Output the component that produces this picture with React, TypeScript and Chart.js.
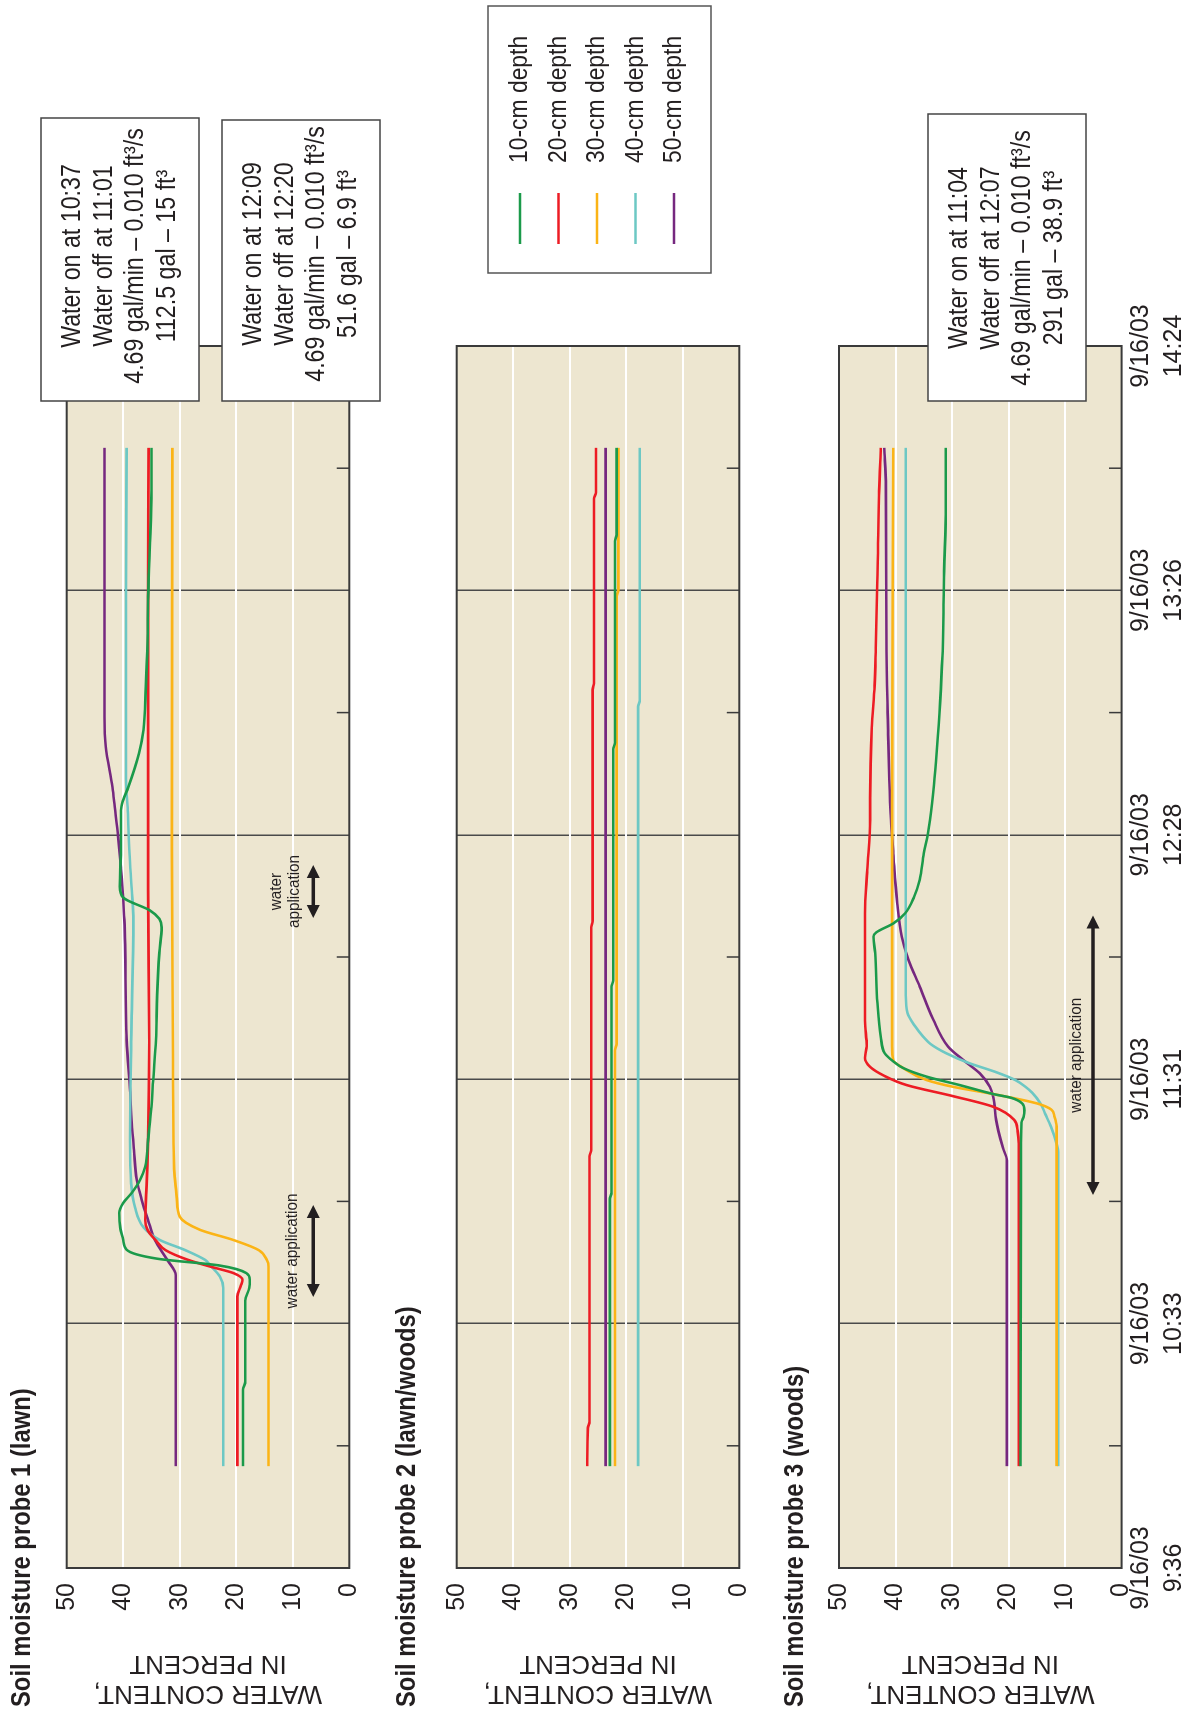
import React, { useEffect, useRef } from 'react';
import { Chart, registerables } from 'chart.js';

Chart.register(...registerables);

// ---------- data (time = minutes after 9:36 on 9/16/03, value = water content %) ----------
const DEPTH_LABELS = ['10-cm depth', '20-cm depth', '30-cm depth', '40-cm depth', '50-cm depth'];
const X_TICK_DATE = '9/16/03';
const X_TICK_TIMES = ['9:36', '10:33', '11:31', '12:28', '13:26', '14:24'];
const X_MAJOR_STEP = 57.6;
const X_MAX = 288;
const Y_MAX = 50;
const Y_STEP = 10;

const P1_10CM: [number, number][] = [[24,18.8],[42,18.8],[44,18.4],[63,18.4],[66,17.7],[68,17.6],[69.5,18.2],[71.3,23],[72.9,34],[75,39.4],[77.3,40],[80,40.5],[83.7,40.7],[86,40],[88.4,38.5],[91.5,37],[94.6,36.1],[101,35.6],[108.7,35],[115,34.7],[124.4,34.2],[135,34],[145,33.6],[151,33.2],[153,33.6],[155,35.3],[158,40],[160.6,40.6],[170,40.4],[178.6,40.4],[181,40],[184,39.1],[192,37.2],[197.5,36.4],[207.7,36],[218,35.7],[229,35.6],[240,35.3],[254,35],[264,35]];
const P1_20CM: [number, number][] = [[24,19.8],[64,19.8],[66.5,19.2],[67.9,18.9],[69.5,20.5],[71,24.5],[72.6,28.5],[74.9,32.5],[77.3,34.3],[79.7,35.7],[82,36.1],[89,35.9],[101,35.6],[124,35.4],[160,35.6],[200,35.6],[230,35.6],[264,35.5]];
const P1_30CM: [number, number][] = [[24,14.3],[71,14.3],[72.6,14.6],[74.9,16],[77.3,20.5],[79.7,26.4],[82.8,30],[87,30.5],[94,31],[120,31.2],[170,31.4],[264,31.3]];
const P1_40CM: [number, number][] = [[24,22.3],[66,22.3],[68.7,22.9],[71.3,24.6],[72.6,25.5],[74.9,29],[77.3,33.5],[80.3,36.4],[85,37.9],[90.7,38.6],[101,38.8],[124,38.6],[152.7,38.2],[160,38.5],[168.5,38.9],[178.6,39.2],[186,39.5],[230,39.5],[264,39.4]];
const P1_50CM: [number, number][] = [[24,30.7],[69,30.7],[72.6,32.2],[77.3,34.4],[82,35.6],[86.7,36.7],[91.5,37.6],[98.5,38.1],[105,38.5],[112.7,38.8],[124.4,39.4],[152.7,39.8],[165,40.4],[172.4,40.9],[179.4,41.5],[184,41.9],[193.6,43.1],[200.6,43.3],[264,43.3]];

const P2_10CM: [number, number][] = [[24,22.9],[87,22.9],[88.5,22.6],[137,22.6],[138.5,22.3],[193,22.3],[194.5,22.0],[242,22.0],[243.5,21.7],[264,21.7]];
const P2_20CM: [number, number][] = [[24,26.9],[33,26.8],[34.5,26.5],[97,26.5],[98.5,26.2],[151,26.2],[152.5,25.95],[207,25.95],[208.5,25.7],[252,25.7],[253.5,25.35],[264,25.35]];
const P2_30CM: [number, number][] = [[24,22.0],[122,22.0],[123.5,21.7],[229,21.7],[230.5,21.4],[264,21.4]];
const P2_40CM: [number, number][] = [[24,17.9],[203,17.9],[204.5,17.6],[264,17.6]];
const P2_50CM: [number, number][] = [[24,23.65],[140,23.65],[264,23.65]];

const P3_10CM: [number, number][] = [[24,17.9],[100,17.8],[105,17.7],[106.5,17.3],[107.9,17.2],[109.5,17.6],[110.8,19.5],[111.7,22.7],[113.8,28.6],[115.8,34.5],[117.8,38.6],[119.4,40.4],[121.3,41.9],[125.2,42.6],[133.1,43.2],[144.9,43.6],[148.8,43.9],[149.8,43.4],[151.9,40.4],[154.3,38.3],[158.2,36.7],[162.2,35.7],[168.4,35.0],[172.8,34.3],[176.3,33.9],[184.6,33.2],[192.5,32.7],[204,32.1],[215,31.7],[235,31.4],[250,31.1],[264,31.1]];
const P3_20CM: [number, number][] = [[24,18.2],[100,18.2],[103,18.4],[105.6,19.0],[108.7,22.7],[111.2,29.8],[113.8,38.0],[116,42.0],[118.1,44.5],[120.2,45.4],[123,45.1],[129,45.4],[154.3,45.4],[164.5,45.0],[176.3,44.5],[181.5,44.5],[198,44.2],[208,43.7],[216.8,43.5],[234,43.2],[253.8,42.9],[264,42.6]];
const P3_30CM: [number, number][] = [[24,11.5],[104,11.5],[106.5,11.9],[108,12.4],[109.5,15.0],[111.7,22.7],[113.4,29.8],[115,34.5],[117.8,38.6],[119.7,40.4],[123,40.6],[180,40.6],[264,40.4]];
const P3_40CM: [number, number][] = [[24,11.2],[98,11.2],[100,11.5],[104,12.5],[107,13.5],[109.6,14.4],[112,15.8],[113.4,17.0],[115,18.8],[117,22.5],[119,27],[121.3,31],[123.5,33.8],[125.2,35.1],[127.6,36.5],[130.8,37.9],[135,38.2],[264,38.2]];
const P3_50CM: [number, number][] = [[24,20.3],[96,20.3],[99,21.0],[103,21.8],[105.6,22.2],[111,22.7],[113.4,23.3],[116.6,25.1],[119.7,28.0],[122.9,30.7],[129.2,33.3],[137,35.7],[143.3,37.7],[148.8,38.9],[156.6,39.7],[168.4,40.4],[176.3,40.8],[186,41.1],[196.4,41.3],[216,41.6],[255,41.7],[264,42.0]];

const BOX1_LINES = ['Water on at 10:37', 'Water off at 11:01', '4.69 gal/min \u2013 0.010 ft\u00b3/s', '112.5 gal \u2013 15 ft\u00b3'];
const BOX2_LINES = ['Water on at 12:09', 'Water off at 12:20', '4.69 gal/min \u2013 0.010 ft\u00b3/s', '51.6 gal \u2013 6.9 ft\u00b3'];
const BOX3_LINES = ['Water on at 11:04', 'Water off at 12:07', '4.69 gal/min \u2013 0.010 ft\u00b3/s', '291 gal \u2013 38.9 ft\u00b3'];

// ---------- styles / layout (landscape frame, later rotated) ----------
const W = 1712;
const H = 1201;
const FONT = "'Liberation Sans', Arial, sans-serif";
const INK = '#231f20';
const BG = '#ede6d0';
const COLORS = ['#1b9a4a', '#ed1c24', '#fbb416', '#6dc8c4', '#76287f'];
const PLOT_LEFT = 144;
const PLOT_RIGHT = 1366;

type Box = { x: number; y: number; w: number; h: number; tx: number; lines: string[] };
type Arrow = { x1: number; x2: number; y: number; labels: string[]; ly: number[] };
type Probe = {
  title: string; titleY: number; top: number; bottom: number; showX: boolean;
  series: [number, number][][]; boxes: Box[]; arrows: Arrow[]; legend: boolean;
};

const PROBES: Probe[] = [
  {
    title: 'Soil moisture probe 1 (lawn)', titleY: 22, top: 66.7, bottom: 349.3, showX: false,
    series: [P1_10CM, P1_20CM, P1_30CM, P1_40CM, P1_50CM],
    boxes: [
      { x: 1311, y: 41, w: 283, h: 158, tx: 1456, lines: BOX1_LINES },
      { x: 1311, y: 222, w: 281, h: 158, tx: 1458, lines: BOX2_LINES },
    ],
    arrows: [
      { x1: 415, x2: 507, y: 313.3, labels: ['water application'], ly: [292] },
      { x1: 794, x2: 847, y: 313.3, labels: ['water', 'application'], ly: [276, 294] },
    ],
    legend: false,
  },
  {
    title: 'Soil moisture probe 2 (lawn/woods)', titleY: 407, top: 456.7, bottom: 739.3, showX: false,
    series: [P2_10CM, P2_20CM, P2_30CM, P2_40CM, P2_50CM],
    boxes: [], arrows: [], legend: true,
  },
  {
    title: 'Soil moisture probe 3 (woods)', titleY: 795, top: 839, bottom: 1121.6, showX: true,
    series: [P3_10CM, P3_20CM, P3_30CM, P3_40CM, P3_50CM],
    boxes: [{ x: 1311, y: 928, w: 287, h: 158, tx: 1454, lines: BOX3_LINES }],
    arrows: [{ x1: 517, x2: 796.5, y: 1093, labels: ['water application'], ly: [1076] }],
    legend: false,
  },
];

function drawText(ctx: CanvasRenderingContext2D, str: string, x: number, y: number, size: number,
  align: CanvasTextAlign = 'left', weight = 'normal', sx = 1) {
  ctx.save();
  ctx.font = `${weight} ${size}px ${FONT}`;
  ctx.fillStyle = INK;
  ctx.textBaseline = 'middle';
  ctx.textAlign = align;
  ctx.translate(x, y);
  ctx.scale(sx, 1);
  ctx.fillText(str, 0, 0);
  ctx.restore();
}

function drawArrow(ctx: CanvasRenderingContext2D, a: Arrow) {
  const hl = 13, hw = 6.5;
  ctx.save();
  ctx.strokeStyle = INK;
  ctx.fillStyle = INK;
  ctx.lineWidth = 3.5;
  ctx.beginPath();
  ctx.moveTo(a.x1 + hl - 1, a.y);
  ctx.lineTo(a.x2 - hl + 1, a.y);
  ctx.stroke();
  ctx.beginPath();
  ctx.moveTo(a.x1, a.y); ctx.lineTo(a.x1 + hl, a.y - hw); ctx.lineTo(a.x1 + hl, a.y + hw); ctx.closePath();
  ctx.fill();
  ctx.beginPath();
  ctx.moveTo(a.x2, a.y); ctx.lineTo(a.x2 - hl, a.y - hw); ctx.lineTo(a.x2 - hl, a.y + hw); ctx.closePath();
  ctx.fill();
  ctx.restore();
  const cx = (a.x1 + a.x2) / 2;
  a.labels.forEach((l, i) => drawText(ctx, l, cx, a.ly[i], 17, 'center', 'normal', 0.9));
}

function makeDecor(p: Probe) {
  return {
    id: 'decor',
    beforeDraw(chart: any) {
      const { ctx, chartArea: c } = chart;
      ctx.save();
      ctx.fillStyle = BG;
      ctx.fillRect(c.left, c.top, c.right - c.left, c.bottom - c.top);
      ctx.restore();
    },
    beforeDatasetsDraw(chart: any) {
      const { ctx, chartArea: c } = chart;
      const xs = chart.scales.x;
      ctx.save();
      ctx.strokeStyle = '#3a3a3a';
      ctx.lineWidth = 1.5;
      for (let v = X_MAJOR_STEP / 2; v < X_MAX; v += X_MAJOR_STEP) {
        const px = xs.getPixelForValue(v);
        ctx.beginPath();
        ctx.moveTo(px, c.bottom);
        ctx.lineTo(px, c.bottom - 12.5);
        ctx.stroke();
      }
      ctx.lineWidth = 2;
      ctx.strokeRect(c.left, c.top, c.right - c.left, c.bottom - c.top);
      ctx.restore();
    },
    afterDraw(chart: any) {
      const { ctx } = chart;
      drawText(ctx, p.title, 5, p.titleY, 28, 'left', 'bold', 0.85);
      p.arrows.forEach((a) => drawArrow(ctx, a));
      p.boxes.forEach((b) => {
        ctx.save();
        ctx.fillStyle = '#ffffff';
        ctx.fillRect(b.x, b.y, b.w, b.h);
        ctx.strokeStyle = '#444444';
        ctx.lineWidth = 1.5;
        ctx.strokeRect(b.x, b.y, b.w, b.h);
        ctx.restore();
        const cy = b.y + b.h / 2;
        b.lines.forEach((l, i) => drawText(ctx, l, b.tx, cy + (i - 1.5) * 31.5, 27, 'center', 'normal', 0.86));
      });
      if (p.legend) {
        ctx.save();
        ctx.fillStyle = '#ffffff';
        ctx.fillRect(1439, 488, 267, 223);
        ctx.strokeStyle = '#555555';
        ctx.lineWidth = 1.5;
        ctx.strokeRect(1439, 488, 267, 223);
        ctx.restore();
        chart.data.datasets.forEach((ds: any, i: number) => {
          const y = 520 + i * 38.5;
          ctx.save();
          ctx.strokeStyle = ds.borderColor;
          ctx.lineWidth = 2.5;
          ctx.beginPath();
          ctx.moveTo(1468, y);
          ctx.lineTo(1519, y);
          ctx.stroke();
          ctx.restore();
          drawText(ctx, ds.label, 1549, y, 26, 'left', 'normal', 0.88);
        });
      }
    },
  };
}

function buildConfig(p: Probe): any {
  const xAxisHeight = p.showX ? H - p.bottom : 0;
  return {
    type: 'line',
    data: {
      datasets: p.series.map((s, i) => ({
        label: DEPTH_LABELS[i],
        data: s.map(([x, y]) => ({ x, y })),
        borderColor: COLORS[i],
        backgroundColor: COLORS[i],
        borderWidth: 2.6,
        pointRadius: 0,
        fill: false,
        cubicInterpolationMode: 'monotone',
      })),
    },
    options: {
      responsive: false,
      animation: false,
      events: [],
      layout: {
        padding: { left: 0, right: W - PLOT_RIGHT, top: p.top, bottom: H - p.bottom - xAxisHeight },
      },
      plugins: { legend: { display: false }, tooltip: { enabled: false }, title: { display: false } },
      scales: {
        x: {
          type: 'linear',
          min: 0,
          max: X_MAX,
          afterBuildTicks: (s: any) => {
            const t = [];
            for (let i = 0; i <= 10; i++) t.push({ value: (i * X_MAJOR_STEP) / 2 });
            s.ticks = t;
          },
          afterFit: (s: any) => { s.height = xAxisHeight; },
          border: { display: false },
          grid: {
            drawTicks: false,
            lineWidth: 1.5,
            color: (c: any) => (c.index % 2 === 0 ? '#4a4a4a' : 'rgba(0,0,0,0)'),
          },
          ticks: {
            display: p.showX,
            autoSkip: false,
            maxRotation: 0,
            minRotation: 0,
            padding: 3,
            color: INK,
            font: { family: FONT, size: 25, lineHeight: '33px' },
            callback: (_v: any, i: number) => (i % 2 === 0 ? [X_TICK_DATE, X_TICK_TIMES[i / 2]] : ''),
          },
        },
        y: {
          min: 0,
          max: Y_MAX,
          afterFit: (s: any) => { s.width = PLOT_LEFT; },
          border: { display: false },
          grid: {
            drawTicks: false,
            lineWidth: 2,
            color: (c: any) => (c.tick && c.tick.value > 0 && c.tick.value < Y_MAX ? '#ffffff' : 'rgba(0,0,0,0)'),
          },
          ticks: { stepSize: Y_STEP, padding: 15, color: INK, font: { family: FONT, size: 25 } },
          title: {
            display: true,
            text: ['WATER CONTENT,', 'IN PERCENT'],
            color: INK,
            font: { family: FONT, size: 26, lineHeight: '30px' },
            padding: { top: 4, bottom: 0 },
          },
        },
      },
    },
    plugins: [makeDecor(p)],
  };
}

export default function App() {
  const refs = useRef<(HTMLCanvasElement | null)[]>([]);
  useEffect(() => {
    const charts = PROBES.map((p, i) => new Chart(refs.current[i] as HTMLCanvasElement, buildConfig(p)));
    return () => charts.forEach((c) => c.destroy());
  }, []);
  return (
    <div style={{ position: 'absolute', left: 0, top: 0, width: 1201, height: 1712, overflow: 'hidden', background: '#ffffff' }}>
      <div
        style={{
          position: 'absolute', left: 0, top: 0, width: W, height: H,
          transformOrigin: '0 0', transform: `translate(0px, ${W}px) rotate(-90deg)`,
        }}
      >
        {PROBES.map((_, i) => (
          <canvas
            key={i}
            ref={(el) => { refs.current[i] = el; }}
            width={W}
            height={H}
            style={{ position: 'absolute', left: 0, top: 0, width: W, height: H }}
          />
        ))}
      </div>
    </div>
  );
}
